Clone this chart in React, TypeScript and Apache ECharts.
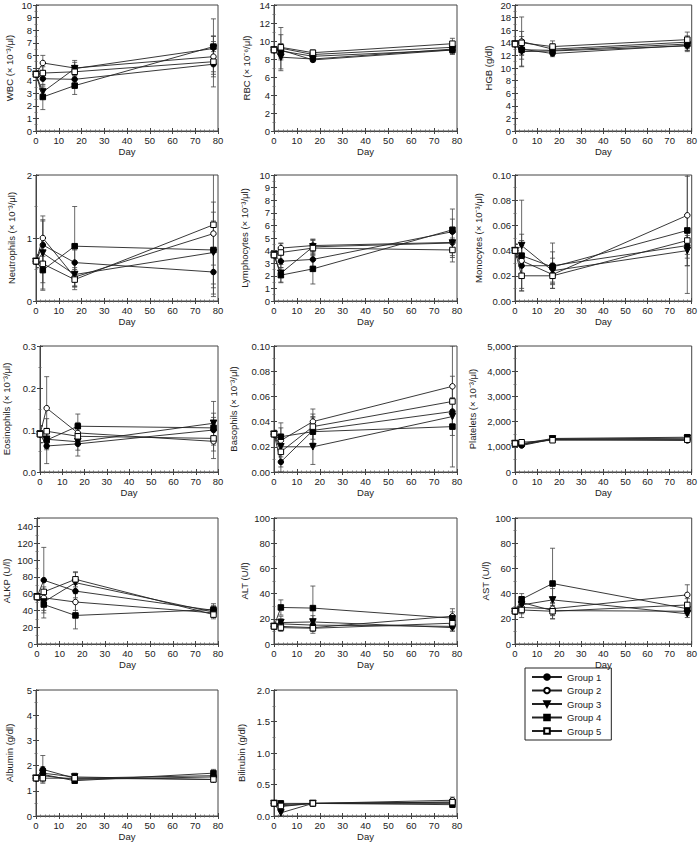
import React, { useEffect, useRef } from "react";
import * as echarts from "echarts";

// ---------- data ----------
const days = [0, 3, 17, 78];
const groupNames = ["Group 1", "Group 2", "Group 3", "Group 4", "Group 5"];

const wbcMean = [[4.5, 4.15, 4.1, 5.3], [4.5, 5.4, 5.0, 5.9], [4.5, 3.1, 4.95, 6.55], [4.5, 2.7, 3.6, 6.7], [4.5, 4.6, 4.7, 5.5]];
const wbcErr = [[0.25, 0.5, 0.4, 1.0], [0.25, 0.6, 0.6, 1.2], [0.25, 0.4, 0.5, 1.0], [0.25, 1.0, 0.7, 2.2], [0.25, 0.5, 0.5, 2.0]];

const rbcMean = [[9.0, 9.0, 7.9, 9.0], [9.0, 9.2, 8.5, 9.3], [9.0, 8.2, 8.0, 9.1], [9.0, 8.9, 8.3, 9.0], [9.0, 9.3, 8.7, 9.7]];
const rbcErr = [[0.2, 0.5, 0.2, 0.4], [0.2, 2.3, 0.3, 0.5], [0.2, 1.5, 0.3, 0.4], [0.2, 0.8, 0.3, 0.5], [0.2, 1.4, 0.3, 0.6]];

const hgbMean = [[13.8, 13.0, 12.3, 13.6], [13.8, 14.2, 13.0, 14.1], [13.8, 12.6, 12.7, 13.5], [13.8, 12.9, 12.8, 13.8], [13.8, 14.0, 13.4, 14.5]];
const hgbErr = [[0.3, 1.0, 0.5, 0.8], [0.3, 3.9, 0.8, 1.0], [0.3, 2.4, 0.6, 0.9], [0.3, 1.5, 0.7, 1.0], [0.3, 1.8, 0.9, 1.2]];

const neuMean = [[0.63, 0.89, 0.61, 0.46], [0.63, 1.0, 0.38, 1.07], [0.63, 0.76, 0.42, 0.77], [0.63, 0.49, 0.87, 0.81], [0.63, 0.59, 0.34, 1.21]];
const neuErr = [[0.1, 0.38, 0.2, 0.39], [0.1, 0.29, 0.15, 0.5], [0.1, 0.59, 0.2, 0.5], [0.1, 0.3, 0.63, 0.6], [0.1, 0.3, 0.16, 1.1]];

const lymMean = [[3.65, 3.15, 3.3, 5.5], [3.65, 4.2, 4.4, 4.65], [3.65, 2.2, 4.3, 4.6], [3.65, 2.05, 2.55, 5.65], [3.65, 3.85, 4.2, 4.05]];
const lymErr = [[0.3, 0.5, 0.6, 1.0], [0.3, 0.4, 0.5, 1.2], [0.3, 0.7, 0.6, 1.0], [0.3, 0.6, 1.2, 1.65], [0.3, 0.7, 0.6, 0.95]];

const monMean = [[0.04, 0.028, 0.028, 0.044], [0.04, 0.032, 0.021, 0.068], [0.04, 0.044, 0.024, 0.04], [0.04, 0.036, 0.027, 0.056], [0.04, 0.02, 0.02, 0.048]];
const monErr = [[0.005, 0.02, 0.018, 0.01], [0.005, 0.012, 0.008, 0.031], [0.005, 0.036, 0.01, 0.012], [0.005, 0.017, 0.012, 0.05], [0.005, 0.01, 0.01, 0.02]];

const eosMean = [[0.09, 0.062, 0.067, 0.1], [0.09, 0.152, 0.093, 0.073], [0.09, 0.078, 0.072, 0.116], [0.09, 0.076, 0.109, 0.105], [0.09, 0.097, 0.085, 0.08]];
const eosErr = [[0.02, 0.042, 0.029, 0.03], [0.02, 0.075, 0.025, 0.041], [0.02, 0.025, 0.02, 0.052], [0.02, 0.02, 0.029, 0.035], [0.02, 0.03, 0.02, 0.03]];

const basMean = [[0.03, 0.008, 0.033, 0.048], [0.03, 0.025, 0.04, 0.068], [0.03, 0.02, 0.02, 0.044], [0.03, 0.028, 0.032, 0.036], [0.03, 0.016, 0.036, 0.056]];
const basErr = [[0.003, 0.008, 0.01, 0.01], [0.003, 0.01, 0.01, 0.032], [0.003, 0.008, 0.014, 0.015], [0.003, 0.011, 0.012, 0.032], [0.003, 0.012, 0.01, 0.02]];

const pltMean = [[1130, 1050, 1300, 1300], [1130, 1100, 1290, 1250], [1130, 1080, 1310, 1340], [1130, 1120, 1330, 1380], [1130, 1180, 1260, 1280]];
const pltErr = [[40, 60, 60, 80], [40, 60, 60, 80], [40, 60, 60, 80], [40, 60, 60, 80], [40, 60, 60, 80]];

const alkpMean = [[56, 76, 63, 40], [56, 55, 50, 37], [56, 50, 73, 38], [56, 47, 34, 41], [56, 62, 77, 35]];
const alkpErr = [[4, 39, 8, 6], [4, 8, 10, 5], [4, 10, 12, 6], [4, 16, 16, 7], [4, 6, 9, 5]];

const altMean = [[14, 16, 15, 14], [14, 14, 13, 22], [14, 17, 17.5, 13], [14, 29, 28.5, 20.5], [14, 13, 12.5, 16.5]];
const altErr = [[2, 4, 3, 3], [2, 3, 3, 6], [2, 5, 5, 3], [2, 6, 17.5, 5], [2, 3, 4, 4]];

const astMean = [[26, 33, 26.5, 26], [26, 29, 28, 39], [26, 31, 35, 24], [26, 35.5, 48, 28], [26, 27, 26, 31]];
const astErr = [[2, 4, 4, 3], [2, 5, 5, 8], [2, 5, 9, 3], [2, 4.5, 28, 4], [2, 6, 6, 5]];

const albMean = [[1.5, 1.85, 1.5, 1.6], [1.5, 1.6, 1.45, 1.55], [1.5, 1.7, 1.55, 1.45], [1.5, 1.65, 1.4, 1.7], [1.5, 1.5, 1.5, 1.45]];
const albErr = [[0.1, 0.55, 0.15, 0.15], [0.1, 0.2, 0.15, 0.1], [0.1, 0.25, 0.15, 0.1], [0.1, 0.2, 0.1, 0.15], [0.1, 0.15, 0.15, 0.1]];

const bilMean = [[0.2, 0.18, 0.2, 0.22], [0.2, 0.15, 0.2, 0.25], [0.2, 0.05, 0.2, 0.2], [0.2, 0.2, 0.2, 0.18], [0.2, 0.16, 0.2, 0.22]];
const bilErr = [[0.02, 0.04, 0.02, 0.04], [0.02, 0.04, 0.02, 0.05], [0.02, 0.05, 0.02, 0.04], [0.02, 0.04, 0.02, 0.04], [0.02, 0.04, 0.02, 0.04]];

// ---------- panel definitions ----------
type Panel = { name: string; mean: number[][]; err: number[][]; max: number; interval: number; dec: number; comma?: boolean; gap: number; hideMax?: boolean };
const panels: Panel[] = [
  { name: "WBC (× 10⁻³/μl)", mean: wbcMean, err: wbcErr, max: 10, interval: 1, dec: 0, gap: 14 },
  { name: "RBC (× 10⁻⁶/μl)", mean: rbcMean, err: rbcErr, max: 14, interval: 2, dec: 0, gap: 15 },
  { name: "HGB (g/dl)", mean: hgbMean, err: hgbErr, max: 20, interval: 2, dec: 0, gap: 14 },
  { name: "Neutrophils (× 10⁻³/μl)", mean: neuMean, err: neuErr, max: 2, interval: 1, dec: 0, gap: 12 },
  { name: "Lymphocytes (× 10⁻³/μl)", mean: lymMean, err: lymErr, max: 10, interval: 1, dec: 0, gap: 17 },
  { name: "Monocytes (× 10⁻³/μl)", mean: monMean, err: monErr, max: 0.1, interval: 0.02, dec: 2, gap: 24 },
  { name: "Eosinophils (× 10⁻³/μl)", mean: eosMean, err: eosErr, max: 0.3, interval: 0.1, dec: 1, gap: 21 },
  { name: "Basophils (× 10⁻³/μl)", mean: basMean, err: basErr, max: 0.1, interval: 0.02, dec: 2, gap: 28 },
  { name: "Platelets (× 10⁻³/μl)", mean: pltMean, err: pltErr, max: 5000, interval: 1000, dec: 0, comma: true, gap: 30 },
  { name: "ALKP (U/l)", mean: alkpMean, err: alkpErr, max: 150, interval: 20, dec: 0, gap: 18, hideMax: true },
  { name: "ALT (U/l)", mean: altMean, err: altErr, max: 100, interval: 20, dec: 0, gap: 17 },
  { name: "AST (U/l)", mean: astMean, err: astErr, max: 100, interval: 20, dec: 0, gap: 17 },
  { name: "Albumin (g/dl)", mean: albMean, err: albErr, max: 5, interval: 1, dec: 0, gap: 14 },
  { name: "Bilirubin (g/dl)", mean: bilMean, err: bilErr, max: 2, interval: 0.5, dec: 1, gap: 20 },
];

// ---------- layout / style ----------
const colLeft = [36, 274, 515];
const colWidth = [182, 183, 180];
const rowTop = [5, 175, 346, 518, 690];
const plotH = 126;
const FONT = "'Liberation Sans', Arial, Helvetica, sans-serif";
const INK = "#222";

const symbols = [
  { symbol: "circle", rotate: 0, fill: "#000" },
  { symbol: "circle", rotate: 0, fill: "#fff" },
  { symbol: "triangle", rotate: 180, fill: "#000" },
  { symbol: "rect", rotate: 0, fill: "#000" },
  { symbol: "rect", rotate: 0, fill: "#fff" },
];

const renderErr = (params: any, api: any) => {
  const x = api.value(0);
  const lo = api.coord([x, api.value(1)]);
  const hi = api.coord([x, api.value(2)]);
  const w = 2.5;
  const style = { stroke: "#444", lineWidth: 0.8, fill: "none" };
  return {
    type: "group",
    children: [
      { type: "line", shape: { x1: lo[0], y1: lo[1], x2: hi[0], y2: hi[1] }, style },
      { type: "line", shape: { x1: lo[0] - w, y1: lo[1], x2: lo[0] + w, y2: lo[1] }, style },
      { type: "line", shape: { x1: hi[0] - w, y1: hi[1], x2: hi[0] + w, y2: hi[1] }, style },
    ],
  };
};

function buildOption() {
  const grid: any[] = [];
  const xAxis: any[] = [];
  const yAxis: any[] = [];
  const series: any[] = [];
  const lineStyle = { color: "#444", width: 1 };
  panels.forEach((p, i) => {
    const col = i % 3;
    const row = Math.floor(i / 3);
    grid.push({ left: colLeft[col], top: rowTop[row], width: colWidth[col], height: plotH, show: true, borderColor: "#444", borderWidth: 1, backgroundColor: "transparent" });
    const xCommon = {
      gridIndex: i, type: "value", min: 0, max: 80, interval: 10,
      axisLine: { show: true, lineStyle }, splitLine: { show: false },
      axisTick: { show: true, inside: true, length: 3, lineStyle },
      minorTick: { show: true, splitNumber: 5, length: 1.5, lineStyle: { color: "#666", width: 0.8 } },
    };
    xAxis.push({
      ...xCommon, position: "bottom",
      name: "Day", nameLocation: "middle", nameGap: 15,
      nameTextStyle: { fontFamily: FONT, fontSize: 9.5, color: INK },
      axisLabel: { fontFamily: FONT, fontSize: 9.5, color: INK, margin: 4 },
    });
    xAxis.push({ ...xCommon, position: "top", axisLabel: { show: false } });
    const yCommon = {
      gridIndex: i, type: "value", min: 0, max: p.max, interval: p.interval,
      axisLine: { show: true, lineStyle }, splitLine: { show: false },
      axisTick: { show: true, inside: true, length: 3, lineStyle },
      minorTick: { show: true, splitNumber: 2, length: 1.5, lineStyle: { color: "#666", width: 0.8 } },
    };
    yAxis.push({
      ...yCommon, position: "left",
      name: p.name, nameLocation: "middle", nameGap: p.gap + 8, nameRotate: 90,
      nameTextStyle: { fontFamily: FONT, fontSize: 9.5, color: INK },
      axisLabel: {
        fontFamily: FONT, fontSize: 9.5, color: INK, margin: 4, showMaxLabel: !p.hideMax,
        formatter: (v: number) => (p.comma ? Math.round(v).toLocaleString("en-US") : v.toFixed(p.dec)),
      },
    });
    yAxis.push({ ...yCommon, position: "right", axisLabel: { show: false } });

    const errData: number[][] = [];
    p.mean.forEach((m, g) => m.forEach((v, d) => errData.push([days[d], v - p.err[g][d], v + p.err[g][d]])));
    series.push({
      type: "custom", xAxisIndex: 2 * i, yAxisIndex: 2 * i, clip: true, silent: true, z: 1,
      data: errData, encode: { x: 0, y: [1, 2] }, renderItem: renderErr,
    });
    p.mean.forEach((m, g) => {
      const s = symbols[g];
      series.push({
        type: "line", name: groupNames[g], xAxisIndex: 2 * i, yAxisIndex: 2 * i, z: 2 + g,
        data: m.map((v, d) => [days[d], v]),
        symbol: s.symbol, symbolSize: s.symbol === "triangle" ? 6.5 : 5.5, symbolRotate: s.rotate, showAllSymbol: true,
        itemStyle: { color: s.fill, borderColor: "#000", borderWidth: 1 },
        lineStyle: { color: "#222", width: 0.9 },
        emphasis: { disabled: true },
      });
    });
  });
  return {
    animation: false,
    backgroundColor: "#fff",
    grid, xAxis, yAxis, series,
    legend: {
      data: groupNames, orient: "vertical", left: 525, top: 668,
      padding: [4, 10, 4, 6], itemGap: 3.5, itemWidth: 30, itemHeight: 7,
      borderColor: "#222", borderWidth: 1, selectedMode: false,
      textStyle: { fontFamily: FONT, fontSize: 9.5, color: INK },
    },
  };
}

export default function App() {
  const ref = useRef<HTMLDivElement>(null);
  useEffect(() => {
    if (!ref.current) return;
    const chart = echarts.init(ref.current, undefined, { renderer: "svg" });
    chart.setOption(buildOption() as any);
    return () => chart.dispose();
  }, []);
  return <div ref={ref} style={{ position: "fixed", left: 0, top: 0, width: 700, height: 842, background: "#fff" }} />;
}
